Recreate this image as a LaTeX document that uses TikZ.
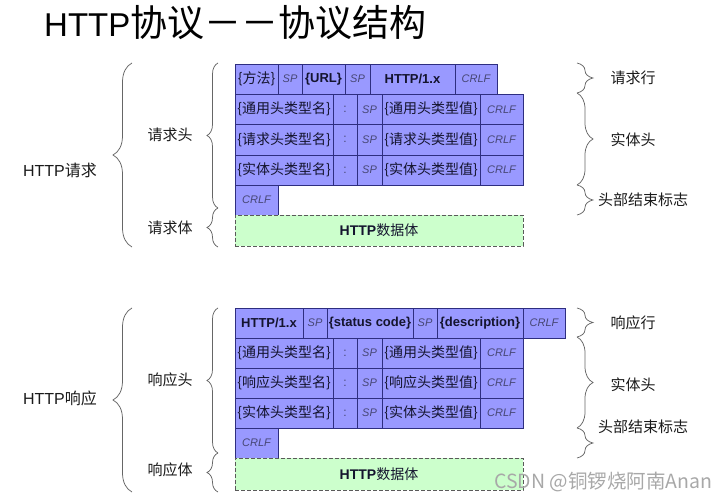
\documentclass[tikz,border=0pt]{standalone}
\usepackage{fontspec}
\setmainfont{Liberation Sans}
\newfontfamily\cjk{Noto Sans CJK SC}
\usetikzlibrary{decorations.pathreplacing}

\definecolor{cellfill}{HTML}{9999FF}
\definecolor{celledge}{HTML}{2E2E80}
\definecolor{bodyfill}{HTML}{CCFFCC}
\definecolor{bodyedge}{HTML}{5A5A5A}
\definecolor{celltext}{HTML}{14142E}
\definecolor{tokentext}{HTML}{474775}
\definecolor{bracecol}{HTML}{666666}
\definecolor{labtext}{HTML}{1A1A1A}
\definecolor{marktext}{HTML}{A8A8A8}

% one table cell: name, x1, x2, y1, y2, style, text
\newcommand{\cellnode}[7]{%
  \pgfmathsetmacro{\cellwd}{#3-#2}%
  \pgfmathsetmacro{\cellht}{#5-#4}%
  \node[#6, minimum width=\cellwd pt, minimum height=\cellht pt, anchor=north west] (#1) at (#2,#4) {#7};}

\tikzset{
  cellbox/.style={draw=celledge, fill=cellfill, line width=0.7pt, inner sep=0pt, outer sep=0pt, text=celltext},
  zhcell/.style={cellbox, font=\cjk\fontsize{14}{16}\selectfont},
  tokcell/.style={cellbox, text=tokentext, font=\itshape\fontsize{11}{13}\selectfont},
  keycell/.style={cellbox, font=\bfseries\fontsize{13}{15}\selectfont},
  colcell/.style={cellbox, text=tokentext, font=\fontsize{12}{14}\selectfont},
  bodybox/.style={draw=bodyedge, fill=bodyfill, dash pattern=on 4pt off 2pt, line width=0.7pt, inner sep=0pt, outer sep=0pt, text=celltext},
  brc/.style={draw=bracecol, line width=0.75pt, decorate},
  lab/.style={inner sep=0pt, text=labtext, font=\cjk\fontsize{15}{17}\selectfont},
  biglab/.style={inner sep=0pt, text=labtext, font=\fontsize{16}{18}\selectfont},
}

\begin{document}
\begin{tikzpicture}[x=1pt, y=-1pt]
\useasboundingbox (0,0) rectangle (724,500);

% title
\node[anchor=base west, inner sep=0pt] (title) at (44,37)
  {\fontsize{33}{36}\selectfont HTTP{\cjk\fontsize{37}{40}\selectfont 协议－－协议结构}};

% ---------------- request ----------------
\cellnode{qa1}{235}{278}{64}{94}{zhcell}{\{方法\}}
\cellnode{qa2}{278}{302}{64}{94}{tokcell}{SP}
\cellnode{qa3}{302}{345}{64}{94}{keycell}{\{URL\}}
\cellnode{qa4}{345}{370}{64}{94}{tokcell}{SP}
\cellnode{qa5}{370}{455}{64}{94}{keycell}{HTTP/1.x}
\cellnode{qa6}{455}{497}{64}{94}{tokcell}{CRLF}

\cellnode{qb1}{235}{333}{94}{124.5}{zhcell}{\{通用头类型名\}}
\cellnode{qb2}{333}{357}{94}{124.5}{colcell}{:}
\cellnode{qb3}{357}{382}{94}{124.5}{tokcell}{SP}
\cellnode{qb4}{382}{480}{94}{124.5}{zhcell}{\{通用头类型值\}}
\cellnode{qb5}{480}{523}{94}{124.5}{tokcell}{CRLF}

\cellnode{qc1}{235}{333}{124.5}{155}{zhcell}{\{请求头类型名\}}
\cellnode{qc2}{333}{357}{124.5}{155}{colcell}{:}
\cellnode{qc3}{357}{382}{124.5}{155}{tokcell}{SP}
\cellnode{qc4}{382}{480}{124.5}{155}{zhcell}{\{请求头类型值\}}
\cellnode{qc5}{480}{523}{124.5}{155}{tokcell}{CRLF}

\cellnode{qd1}{235}{333}{155}{185}{zhcell}{\{实体头类型名\}}
\cellnode{qd2}{333}{357}{155}{185}{colcell}{:}
\cellnode{qd3}{357}{382}{155}{185}{tokcell}{SP}
\cellnode{qd4}{382}{480}{155}{185}{zhcell}{\{实体头类型值\}}
\cellnode{qd5}{480}{523}{155}{185}{tokcell}{CRLF}

\cellnode{qe1}{235}{278}{185}{215}{tokcell}{CRLF}
\cellnode{qbody}{235}{523}{215}{246}{bodybox}{\fontsize{14}{16}\selectfont\bfseries HTTP{\cjk\mdseries 数据体}}

% ---------------- response ----------------
\cellnode{pa1}{235}{303}{308}{338}{keycell}{HTTP/1.x}
\cellnode{pa2}{303}{327}{308}{338}{tokcell}{SP}
\cellnode{pa3}{327}{413}{308}{338}{keycell}{\{status code\}}
\cellnode{pa4}{413}{437}{308}{338}{tokcell}{SP}
\cellnode{pa5}{437}{523}{308}{338}{keycell}{\{description\}}
\cellnode{pa6}{523}{565}{308}{338}{tokcell}{CRLF}

\cellnode{pb1}{235}{333}{338}{368}{zhcell}{\{通用头类型名\}}
\cellnode{pb2}{333}{357}{338}{368}{colcell}{:}
\cellnode{pb3}{357}{382}{338}{368}{tokcell}{SP}
\cellnode{pb4}{382}{480}{338}{368}{zhcell}{\{通用头类型值\}}
\cellnode{pb5}{480}{523}{338}{368}{tokcell}{CRLF}

\cellnode{pc1}{235}{333}{368}{398}{zhcell}{\{响应头类型名\}}
\cellnode{pc2}{333}{357}{368}{398}{colcell}{:}
\cellnode{pc3}{357}{382}{368}{398}{tokcell}{SP}
\cellnode{pc4}{382}{480}{368}{398}{zhcell}{\{响应头类型值\}}
\cellnode{pc5}{480}{523}{368}{398}{tokcell}{CRLF}

\cellnode{pd1}{235}{333}{398}{428}{zhcell}{\{实体头类型名\}}
\cellnode{pd2}{333}{357}{398}{428}{colcell}{:}
\cellnode{pd3}{357}{382}{398}{428}{tokcell}{SP}
\cellnode{pd4}{382}{480}{398}{428}{zhcell}{\{实体头类型值\}}
\cellnode{pd5}{480}{523}{398}{428}{tokcell}{CRLF}

\cellnode{pe1}{235}{278}{428}{458}{tokcell}{CRLF}
\cellnode{pbody}{235}{523}{458}{490}{bodybox}{\fontsize{14}{16}\selectfont\bfseries HTTP{\cjk\mdseries 数据体}}

% ---------------- left braces and labels ----------------
\coordinate (lq1) at (132,63);  \coordinate (lq2) at (132,247);
\coordinate (lh1) at (218,63);  \coordinate (lh2) at (218,208); \coordinate (lh3) at (218,247);
\draw[brc, decoration={brace, amplitude=19pt}] (lq2) -- (lq1);
\draw[brc, decoration={brace, amplitude=11pt}] (lh2) -- (lh1);
\draw[brc, decoration={brace, amplitude=11pt}] (lh3) -- (lh2);
\node[biglab] (reqall) at (60,170) {HTTP{\cjk 请求}};
\node[lab] (reqhead) at (170,135) {请求头};
\node[lab] (reqbody) at (170,228) {请求体};

\coordinate (lp1) at (132,308); \coordinate (lp2) at (132,492);
\coordinate (lr1) at (218,308); \coordinate (lr2) at (218,453); \coordinate (lr3) at (218,492);
\draw[brc, decoration={brace, amplitude=19pt}] (lp2) -- (lp1);
\draw[brc, decoration={brace, amplitude=11pt}] (lr2) -- (lr1);
\draw[brc, decoration={brace, amplitude=11pt}] (lr3) -- (lr2);
\node[biglab] (resall) at (60,398) {HTTP{\cjk 响应}};
\node[lab] (reshead) at (170,380) {响应头};
\node[lab] (resbody) at (170,470) {响应体};

% ---------------- right braces and labels ----------------
\coordinate (rq1) at (577,63); \coordinate (rq2) at (577,93);
\coordinate (rq3) at (577,185); \coordinate (rq4) at (577,215);
\draw[brc, decoration={brace, amplitude=16pt}] (rq1) -- (rq2);
\draw[brc, decoration={brace, amplitude=16pt}] (rq2) -- (rq3);
\draw[brc, decoration={brace, amplitude=16pt}] (rq3) -- (rq4);
\node[lab] (reqline) at (633,78) {请求行};
\node[lab] (reqent) at (633,140) {实体头};
\node[lab, anchor=west] (reqend) at (598,200) {头部结束标志};

\coordinate (rp1) at (577,308); \coordinate (rp2) at (577,337);
\coordinate (rp3) at (577,428); \coordinate (rp4) at (577,458);
\draw[brc, decoration={brace, amplitude=16pt}] (rp1) -- (rp2);
\draw[brc, decoration={brace, amplitude=16pt}] (rp2) -- (rp3);
\draw[brc, decoration={brace, amplitude=16pt}] (rp3) -- (rp4);
\node[lab] (resline) at (633,323) {响应行};
\node[lab] (resent) at (633,385) {实体头};
\node[lab, anchor=west] (resend) at (598,427) {头部结束标志};

% signature
\node[anchor=west, inner sep=0pt, text=marktext, font=\cjk\fontsize{19.5}{21}\selectfont] (sig) at (494,482) {CSDN @铜锣烧阿南Anan};
\end{tikzpicture}
\end{document}
